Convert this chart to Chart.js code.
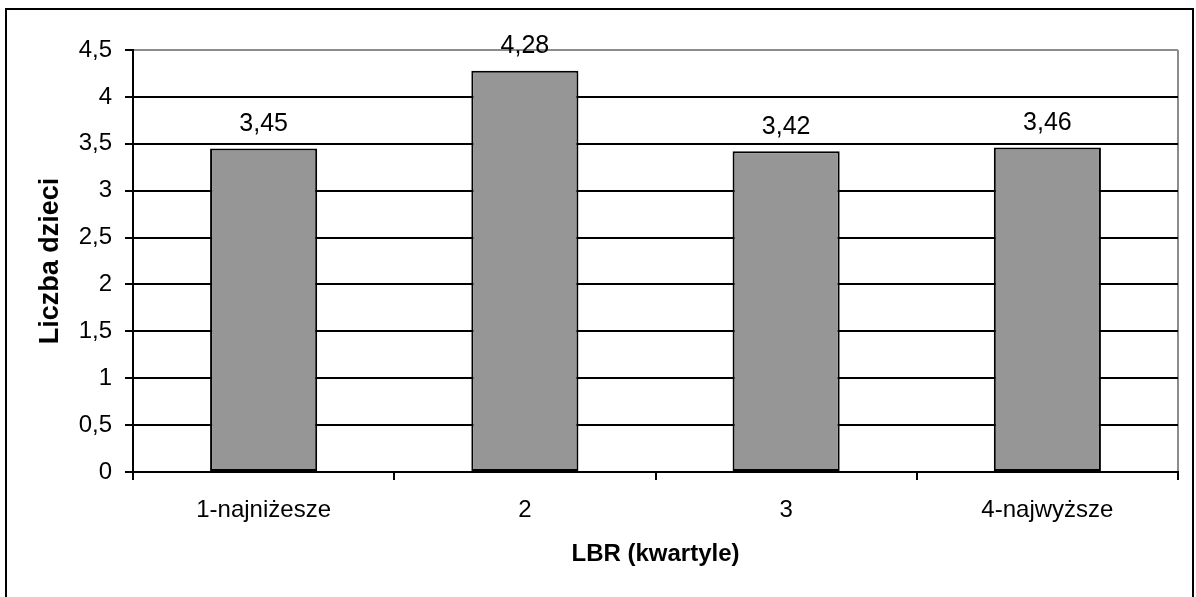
<!DOCTYPE html>
<html>
<head>
<meta charset="utf-8">
<script src="https://cdn.jsdelivr.net/npm/chart.js@4/dist/chart.umd.min.js"></script>
<style>
  html, body { margin: 0; padding: 0; background: #ffffff; }
  canvas { display: block; }
</style>
</head>
<body>
<canvas id="c" width="1196" height="597"></canvas>
<script>
// Średnia liczba dzieci w kwartylach LBR
const categories = ['1-najniżesze', '2', '3', '4-najwyższe'];
const values = [3.45, 4.28, 3.42, 3.46];
const yTicks = [0, 0.5, 1, 1.5, 2, 2.5, 3, 3.5, 4, 4.5];
const yTitle = 'Liczba dzieci';
const xTitle = 'LBR (kwartyle)';

const FONT = '"Liberation Sans", Arial, sans-serif';
const fmt = v => String(v).replace('.', ',');

// white page with a black frame around the chart
const framePlugin = {
  id: 'frame',
  beforeDraw(chart) {
    const ctx = chart.ctx;
    ctx.save();
    ctx.fillStyle = '#ffffff';
    ctx.fillRect(0, 0, chart.width, chart.height);
    ctx.strokeStyle = '#000000';
    ctx.lineWidth = 2;
    ctx.strokeRect(6, 9, 1187, 800);
    ctx.restore();
  }
};

// value labels above each bar
const valueLabels = {
  id: 'valueLabels',
  afterDatasetsDraw(chart) {
    const ctx = chart.ctx;
    const meta = chart.getDatasetMeta(0);
    ctx.save();
    ctx.font = '25px ' + FONT;
    ctx.fillStyle = '#000000';
    ctx.textAlign = 'center';
    ctx.textBaseline = 'alphabetic';
    meta.data.forEach((bar, i) => {
      ctx.fillText(fmt(chart.data.datasets[0].data[i]), bar.x, bar.y - 17.5);
    });
    ctx.restore();
  }
};

new Chart(document.getElementById('c'), {
  type: 'bar',
  data: {
    labels: categories,
    datasets: [{
      data: values,
      backgroundColor: '#969696',
      borderColor: '#000000',
      borderWidth: 2,
      borderSkipped: false,
      categoryPercentage: 1,
      barPercentage: 0.41
    }]
  },
  options: {
    responsive: false,
    animation: false,
    events: [],
    layout: { padding: { left: 0, top: 50, right: 18, bottom: 0 } },
    plugins: {
      legend: { display: false },
      tooltip: { enabled: false },
      title: { display: false }
    },
    scales: {
      x: {
        offset: true,
        grid: {
          offset: true,
          drawOnChartArea: true,
          drawTicks: true,
          tickLength: 8,
          lineWidth: 2,
          color: c => (c.tick ? 'rgba(0,0,0,0)' : '#8c8c8c'),
          tickColor: '#000000',
          tickWidth: 2
        },
        border: { display: true, color: '#000000', width: 2 },
        ticks: {
          color: '#000000',
          padding: 16,
          maxRotation: 0,
          autoSkip: false,
          font: { family: FONT, size: 24, lineHeight: 1.2 }
        },
        title: {
          display: true,
          text: xTitle,
          color: '#000000',
          padding: { top: 0, bottom: 28 },
          font: { family: FONT, size: 24, weight: 'bold', lineHeight: 1.2 }
        },
        afterFit(scale) { scale.height = 125; }
      },
      y: {
        min: 0,
        max: 4.5,
        afterBuildTicks(scale) { scale.ticks = yTicks.map(v => ({ value: v })); },
        grid: {
          drawTicks: true,
          tickLength: 8,
          lineWidth: 2,
          color: c => (c.tick && c.tick.value === 4.5 ? '#8c8c8c' : '#000000'),
          tickColor: '#000000',
          tickWidth: 2
        },
        border: { display: true, color: '#000000', width: 2 },
        ticks: {
          color: '#000000',
          padding: 13,
          callback: v => fmt(v),
          font: { family: FONT, size: 24, lineHeight: 1.2 }
        },
        title: {
          display: true,
          text: yTitle,
          color: '#000000',
          padding: { top: 34, bottom: 0 },
          font: { family: FONT, size: 27, weight: 'bold', lineHeight: 1.2 }
        },
        afterFit(scale) { scale.width = 133; }
      }
    }
  },
  plugins: [framePlugin, valueLabels]
});
</script>
</body>
</html>
